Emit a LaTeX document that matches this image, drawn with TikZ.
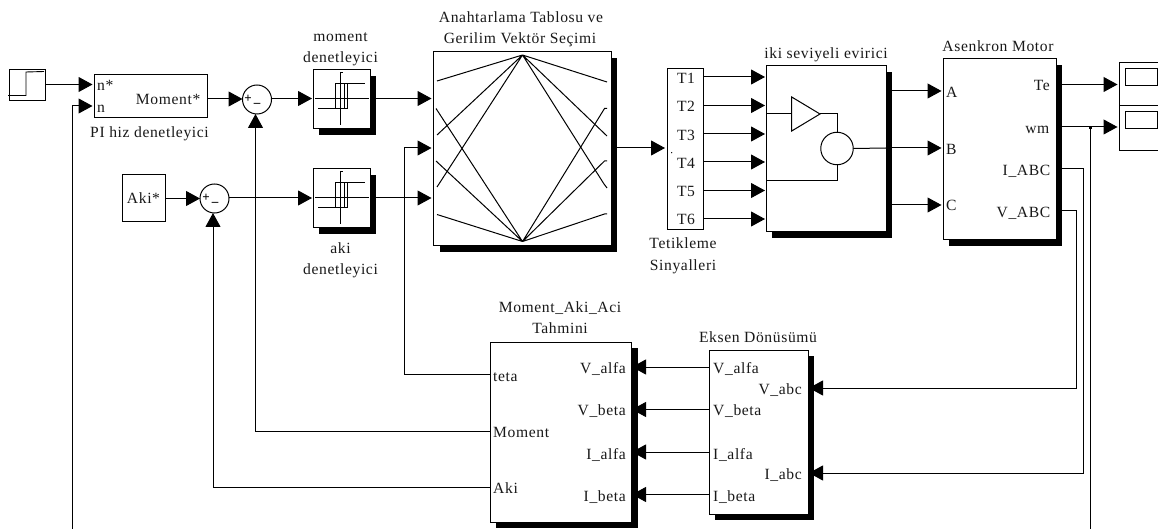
\documentclass[tikz,border=0pt]{standalone}
\usepackage{fontspec}
\setmainfont[LetterSpace=4]{Liberation Serif}
\usetikzlibrary{arrows.meta,shadows}
\tikzset{
  block/.style={draw=black,line width=1pt,fill=white,inner sep=0pt,outer sep=0pt,minimum width=#1},
  block/.default=10pt,
  shad/.style={drop shadow={shadow xshift=6pt,shadow yshift=-6pt,fill=black,opacity=1}},
  sumblock/.style={circle,draw=black,line width=1pt,fill=white,inner sep=0pt,outer sep=0pt,minimum size=29pt},
  sig/.style={line width=1pt,-{Triangle[length=14pt,width=15pt]}},
  wire/.style={line width=1pt},
  icon/.style={line width=.9pt},
  lbl/.style={inner sep=0pt,yshift=-3.3pt,font=\fontsize{15.6pt}{15.6pt}\selectfont,text=black!90},
  lblL/.style={lbl,anchor=mid west},
  lblR/.style={lbl,anchor=mid east},
  lblC/.style={lbl,anchor=mid},
  signs/.style={inner sep=0pt,font=\fontsize{13pt}{13pt}\selectfont\bfseries},
  pics/relayicon/.style={code={
    \draw[icon] (27.7,2)--(27.7,55) (27.7,2)--(30,2);
    \draw[icon] (2,28.5)--(56,28.5);
    \draw[icon] (5,38)--(34.7,38)--(34.7,13.5);
    \draw[icon] (22,38)--(22,13.5)--(52,13.5);
    \draw[icon] (31,13.5)--(31,38);
  }}
}
\begin{document}
\begin{tikzpicture}[x=1pt,y=-1pt]
\useasboundingbox (0,0) rectangle (1158,529);
\fill[white] (0,0) rectangle (1158,529);
\clip (0,0) rectangle (1158,529);

% blocks
\node[block=36pt,minimum height=31pt] (step) at (27,85.5) {};
\node[block=113pt,minimum height=43.5pt] (pi) at (150.5,96.25) {};
\node[block=43pt,minimum height=47pt] (akiref) at (143.5,198.5) {};
\node[sumblock] (s1) at (257,99.5) {};
\node[sumblock] (s2) at (214.5,198.5) {};
\node[block=57pt,minimum height=59pt,shad] (mctl) at (341.5,99.5) {};
\node[block=57pt,minimum height=59pt,shad] (actl) at (341.5,198.5) {};
\node[block=177.5pt,minimum height=194pt,shad] (sw) at (522.25,149) {};
\node[block=36pt,minimum height=161pt] (mux) at (685,149.5) {};
\node[block=120pt,minimum height=166pt,shad] (inv) at (826,149) {};
\node[block=113pt,minimum height=181pt,shad] (motor) at (999.5,149.5) {};
\node[block=46pt,minimum height=88pt] (scope) at (1142,107) {};
\node[block=141.5pt,minimum height=180pt,shad] (est) at (560.75,432) {};
\node[block=99pt,minimum height=164pt,shad] (ax) at (758.5,432) {};

% ports
\coordinate (stepO) at (45,84.5);
\coordinate (piA) at (92.5,84.5);
\coordinate (piB) at (92.5,106);
\coordinate (piO) at (207,99);
\coordinate (nLow) at (72,529);
\coordinate (nCorner) at (72,106);
\coordinate (akiO) at (165,198.5);
\coordinate (mctlI) at (312,98.5);
\coordinate (s1O) at (271.5,98.5);
\coordinate (mctlO) at (376,98.5);
\coordinate (swA) at (431.5,98.5);
\coordinate (swB) at (431.5,148);
\coordinate (swC) at (431.5,198);
\coordinate (actlI) at (312,198);
\coordinate (s2O) at (229,198);
\coordinate (actlO) at (376,198);
\coordinate (swO) at (611,148);
\coordinate (muxI) at (665,148);
\foreach \n/\y in {1/77,2/105.5,3/134,4/162,5/190.5,6/219}{
  \coordinate (muxO\n) at (703,\y);
  \coordinate (invI\n) at (765,\y);
}
\coordinate (invA) at (892,91);
\coordinate (invB) at (886,148);
\coordinate (invC) at (892,205);
\coordinate (motA) at (941.5,91);
\coordinate (motB) at (941.5,148);
\coordinate (motC) at (941.5,205);
\coordinate (teO) at (1056,84.5);
\coordinate (wmO) at (1056,127);
\coordinate (iO) at (1056,169);
\coordinate (vO) at (1056,211);
\coordinate (scA) at (1117.5,84.5);
\coordinate (scB) at (1117.5,127);
\coordinate (wmJ) at (1090,127);
\coordinate (wmLow) at (1090,529);
\coordinate (iC1) at (1083,169);
\coordinate (iC2) at (1083,473);
\coordinate (vC1) at (1076,211);
\coordinate (vC2) at (1076,388);
\coordinate (axV) at (809,388);
\coordinate (axI) at (809,473);
\coordinate (estT) at (490,374);
\coordinate (estM) at (490,431);
\coordinate (estK) at (490,487);
\coordinate (tC1) at (404,374);
\coordinate (tC2) at (404,148);
\coordinate (mC) at (255.5,431);
\coordinate (kC) at (213,487);
\foreach \n/\y in {1/367,2/409.5,3/452,4/494.5}{
  \coordinate (axO\n) at (709,\y);
  \coordinate (estI\n) at (632,\y);
}

% connectors
\draw[sig] (stepO) -- (piA);
\draw[sig] (nLow) -- (nCorner) -- (piB);
\draw[sig] (piO) -- (s1.west |- piO);
\draw[sig] (akiO) -- (s2.west);
\draw[sig] (s1O) -- (mctlI);
\draw[sig] (mctlO) -- (swA);
\draw[sig] (s2O) -- (actlI);
\draw[sig] (actlO) -- (swC);
\draw[sig] (estT) -- (tC1) -- (tC2) -- (swB);
\draw[sig] (estM) -- (mC) -- (mC |- s1.south);
\draw[sig] (estK) -- (kC) -- (kC |- s2.south);
\draw[sig] (swO) -- (muxI);
\foreach \n in {1,...,6}{\draw[sig] (muxO\n) -- (invI\n);}
\draw[sig] (invA) -- (motA);
\draw[sig] (invB) -- (motB);
\draw[sig] (invC) -- (motC);
\draw[sig] (teO) -- (scA);
\draw[sig] (wmO) -- (scB);
\draw[wire] (wmJ) -- (wmLow);
\fill (wmJ) ++(-1.5,-1) rectangle ++(3,3);
\draw[sig] (iO) -- (iC1) -- (iC2) -- (axI);
\draw[sig] (vO) -- (vC1) -- (vC2) -- (axV);
\foreach \n in {1,...,4}{\draw[sig] (axO\n) -- (estI\n);}

% step icon
\draw[icon] (8,95.5) -- (26,95.5) -- (26,72) -- (44,71.5);

% sum signs
\node[signs] (s1p) at (248,98.5) {+};
\node[signs] (s1m) at (257,103.5) {\_};
\node[signs] (s2p) at (206,198) {+};
\node[signs] (s2m) at (215,202.5) {\_};

% relay icons
\pic at (313,70) {relayicon};
\pic at (313,169) {relayicon};

% switching table icon
\coordinate (swT) at (522.5,55);
\coordinate (swD) at (522.5,241.5);
\draw[icon,line width=1pt] (437,81)--(swT) (437,135)--(swT) (437,187)--(swT)
  (607,82)--(swT) (607,136)--(swT) (604,184)--(607,188) (604,184)--(swT);
\draw[icon,line width=1pt] (436,108.5)--(swD) (436,161)--(swD) (437,214.5)--(swD)
  (607,108.5)--(604.5,108.5)--(swD) (607,161)--(604.5,161)--(swD) (607,214)--(604.5,214)--(swD);

% inverter icon
\node[draw=black,line width=1pt,circle,fill=white,inner sep=0pt,minimum size=32.5pt,outer sep=0pt] (invc) at (837,148.5) {};
\coordinate (triA) at (791.7,97);
\coordinate (triB) at (791.7,131);
\coordinate (triC) at (820,114);
\draw[icon,line width=1pt] (triA)--(triC)--(triB)--cycle;
\draw[icon,line width=1pt] (766,114)--(791.7,114);
\draw[icon,line width=1pt] (triC)--(837,114)--(invc.north);
\draw[icon,line width=1pt] (invc.east)--(invB);
\draw[icon,line width=1pt] (invc.south)--(837,180.5)--(766,180.5);

% mux dot
\fill (671.7,152.7) circle (.7);

% scope icon
\draw[wire] (1119,105.5) -- (1165,105.5);
\node[block=32pt,minimum height=17pt] (sc1) at (1141,77.5) {};
\node[block=32pt,minimum height=17pt] (sc2) at (1141,120) {};

% labels
\node[lblC] (t1) at (340.5,36) {moment};
\node[lblC] (t2) at (340.5,57) {denetleyici};
\node[lblC] (t3) at (149.5,132) {PI hiz denetleyici};
\node[lblL] (t4) at (97,85) {n*};
\node[lblL] (t5) at (97,107) {n};
\node[lblR] (t6) at (200.5,99) {Moment*};
\node[lblC] (t7) at (143.5,198) {Aki*};
\node[lblC] (t8) at (340.5,248) {aki};
\node[lblC] (t9) at (340.5,269) {denetleyici};
\node[lblC] (t10) at (521,17) {Anahtarlama Tablosu ve};
\node[lblC] (t11) at (520,38) {Gerilim Vektör Seçimi};
\node[lblC] (t12) at (826,53) {iki seviyeli evirici};
\foreach \n/\y in {1/78,2/106,3/135,4/163,5/191,6/219}{
  \node[lblC] (T\n) at (686,\y) {T\n};
}
\node[lblC] (t13) at (683,243) {Tetikleme};
\node[lblC] (t14) at (683,265) {Sinyalleri};
\node[lblC] (t15) at (998,46) {Asenkron Motor};
\node[lblL] (t16) at (946,92) {A};
\node[lblL] (t17) at (946,149) {B};
\node[lblL] (t18) at (946,205) {C};
\node[lblR] (t19) at (1050,85) {Te};
\node[lblR] (t20) at (1049.5,128) {wm};
\node[lblR] (t21) at (1050.5,170) {I\_ABC};
\node[lblR] (t22) at (1050.5,212) {V\_ABC};
\node[lblC] (t23) at (560,307) {Moment\_Aki\_Aci};
\node[lblC] (t24) at (560,328) {Tahmini};
\node[lblC] (t25) at (758,337) {Eksen Dönüsümü};
\node[lblL] (t26) at (493,376) {teta};
\node[lblL] (t27) at (493,431.5) {Moment};
\node[lblL] (t28) at (493,488) {Aki};
\node[lblR] (t29) at (626,368) {V\_alfa};
\node[lblR] (t30) at (626,410) {V\_beta};
\node[lblR] (t31) at (626,454) {I\_alfa};
\node[lblR] (t32) at (626,496) {I\_beta};
\node[lblL] (t33) at (713,368) {V\_alfa};
\node[lblL] (t34) at (713,410) {V\_beta};
\node[lblL] (t35) at (713,454) {I\_alfa};
\node[lblL] (t36) at (713,496) {I\_beta};
\node[lblR] (t37) at (802,389) {V\_abc};
\node[lblR] (t38) at (802,474) {I\_abc};
\end{tikzpicture}
\end{document}
